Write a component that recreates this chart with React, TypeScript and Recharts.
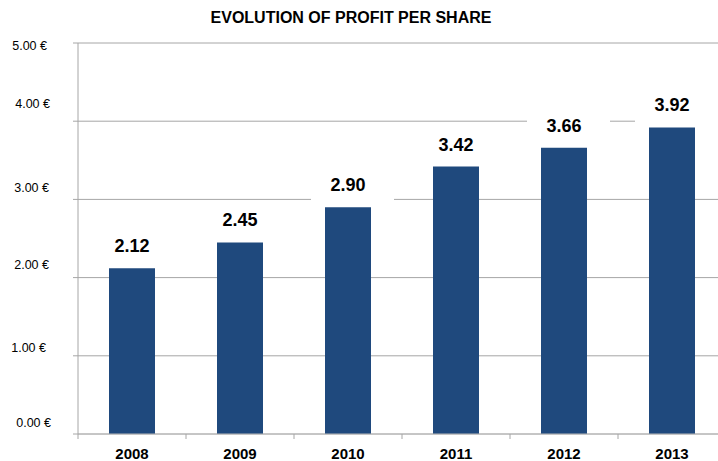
import React from 'react';
import { BarChart, Bar, XAxis, YAxis, CartesianGrid, LabelList } from 'recharts';

const title = 'EVOLUTION OF PROFIT PER SHARE';
const years = ['2008', '2009', '2010', '2011', '2012', '2013'];
const profitPerShare = [2.12, 2.45, 2.9, 3.42, 3.66, 3.92];
const yTicks = [0, 1, 2, 3, 4, 5];

const data = years.map((year, i) => ({ year, value: profitPerShare[i] }));

const FONT = '"Liberation Sans", Arial, sans-serif';
const GRID = '#a6a6a6';
const BAR = '#1f497d';
const yLabelDy = [-12, -8, -13, -12, -18, 2];
const yLabelRight = [51, 46, 49, 49, 50, 47];

const YTick = (props: any) => {
  const { y, payload } = props;
  const i = Math.max(0, yTicks.indexOf(Number(payload.value)));
  return (
    <text
      x={yLabelRight[i]}
      y={y + yLabelDy[i] + 4.5}
      textAnchor="end"
      fontSize={12.5}
      fontFamily={FONT}
      fill="#000"
    >
      {Number(payload.value).toFixed(2)} €
    </text>
  );
};

const XTick = (props: any) => {
  const { x, y, payload, index } = props;
  const half = payload && payload.offset ? payload.offset : 54;
  return (
    <g>
      <line x1={x - half} x2={x - half} y1={y} y2={y + 5} stroke={GRID} />
      {index === years.length - 1 && (
        <line x1={x + half} x2={x + half} y1={y} y2={y + 5} stroke={GRID} />
      )}
      <text
        x={x}
        y={y + 25}
        textAnchor="middle"
        fontSize={15}
        fontWeight="bold"
        fontFamily={FONT}
        fill="#000"
      >
        {payload.value}
      </text>
    </g>
  );
};

const BarLabel = (props: any) => {
  const { x, y, width, value } = props;
  const cx = Number(x) + Number(width) / 2;
  const top = Number(y);
  return (
    <g>
      <rect x={cx - 37} y={top - 39} width={83} height={36} fill="#fff" />
      <text
        x={cx}
        y={top - 16}
        textAnchor="middle"
        fontSize={18}
        fontWeight="bold"
        fontFamily={FONT}
        fill="#000"
      >
        {Number(value).toFixed(2)}
      </text>
    </g>
  );
};

export default function App() {
  return (
    <div
      style={{
        position: 'fixed',
        top: 0,
        left: 0,
        width: 718,
        height: 461,
        overflow: 'hidden',
        background: '#fff',
      }}
    >
      <div
        style={{
          position: 'absolute',
          top: 9,
          left: 0,
          width: 702,
          textAlign: 'center',
          fontFamily: FONT,
          fontWeight: 'bold',
          fontSize: 16,
          color: '#000',
          zIndex: 2,
        }}
      >
        {title}
      </div>
      <BarChart
        width={740}
        height={461}
        data={data}
        margin={{ top: 43, right: 14, bottom: 0, left: 0 }}
      >
        <CartesianGrid horizontal={true} vertical={false} stroke={GRID} />
        <XAxis
          dataKey="year"
          height={27}
          tickLine={false}
          tickSize={0}
          tickMargin={0}
          axisLine={{ stroke: '#b8b8b8' }}
          tick={<XTick />}
          interval={0}
        />
        <YAxis
          width={78}
          domain={[0, 5]}
          ticks={yTicks}
          type="number"
          tickSize={5}
          tickLine={{ stroke: GRID }}
          axisLine={{ stroke: GRID }}
          tick={<YTick />}
          interval={0}
        />
        <Bar dataKey="value" fill={BAR} barSize={46} isAnimationActive={false}>
          <LabelList dataKey="value" content={<BarLabel />} />
        </Bar>
      </BarChart>
    </div>
  );
}
